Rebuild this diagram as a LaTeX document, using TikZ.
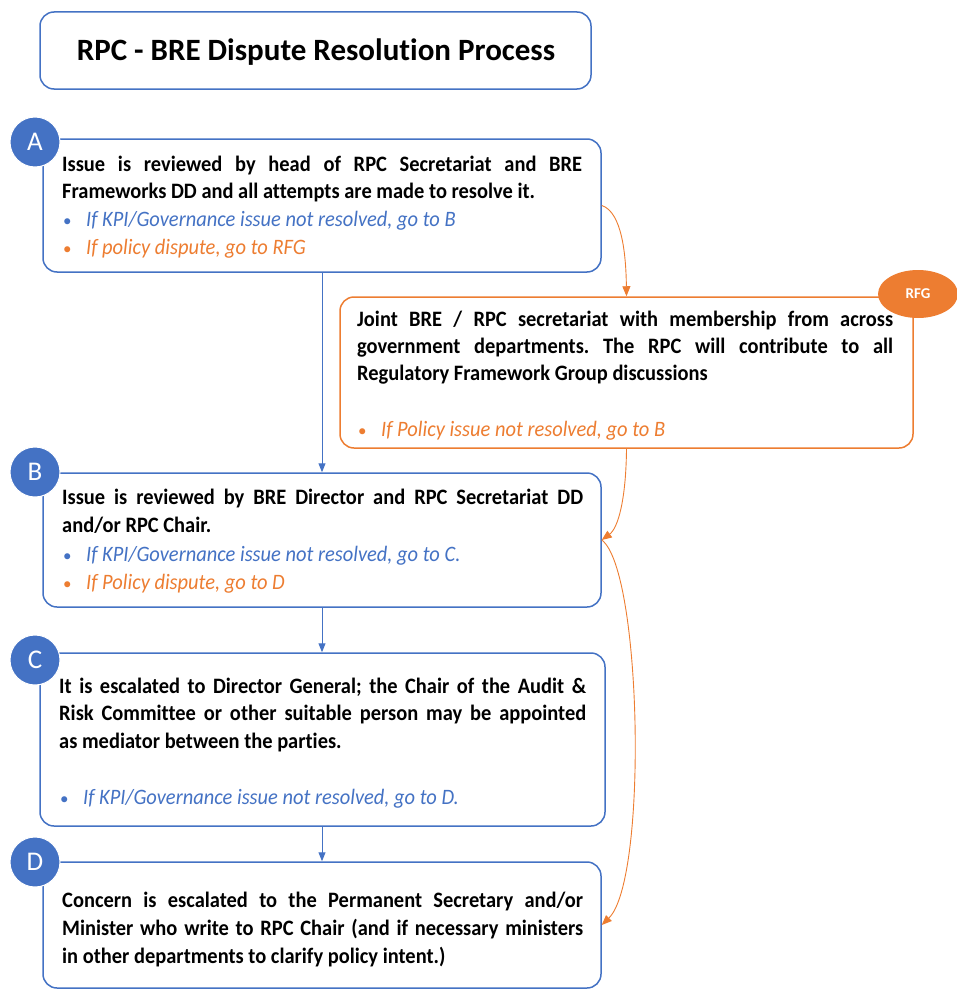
\documentclass[tikz,border=0pt]{standalone}
\usepackage{fontspec}
\setmainfont{Carlito}[Ligatures=NoCommon]
\newfontfamily\bodyfont{Carlito}[FakeStretch=0.93,Ligatures=NoCommon]
\usetikzlibrary{arrows.meta,shapes.geometric}
\definecolor{cblue}{HTML}{4472C4}
\definecolor{corange}{HTML}{ED7D31}
\newcommand{\jline}[2]{\makebox[#1pt][s]{#2}}
\frenchspacing
\begin{document}
\begin{tikzpicture}[x=1pt,y=-1pt,
  bbox/.style={draw=cblue,line width=1.5pt,rounded corners=14pt,inner sep=0pt,fill=white},
  obox/.style={draw=corange,line width=1.5pt,rounded corners=14pt,inner sep=0pt,fill=white},
  badge/.style={circle,fill=cblue,draw=white,line width=1pt,minimum size=50pt,inner sep=0pt,text=white,font=\fontsize{27}{27}\selectfont},
  rfgbadge/.style={ellipse,fill=corange,minimum width=80pt,minimum height=48pt,inner sep=0pt,text=white,font=\fontsize{15}{15}\selectfont\bfseries},
  ln/.style={anchor=base west,inner sep=0pt,font=\bodyfont\fontsize{22}{26}\selectfont\bfseries},
  bl/.style={anchor=base west,inner sep=0pt,font=\bodyfont\fontsize{22}{26}\selectfont\itshape,text=cblue},
  ol/.style={anchor=base west,inner sep=0pt,font=\bodyfont\fontsize{22}{26}\selectfont\itshape,text=corange},
  bul/.style={anchor=base west,inner sep=0pt,font=\fontsize{17}{20}\selectfont},
  barrow/.style={draw=cblue,line width=1pt,-{Triangle[length=9pt,width=7pt]}},
  oarrow/.style={draw=corange,line width=0.9pt,-{Triangle[length=10pt,width=8pt]}}]
\useasboundingbox (0,0) rectangle (957,990);

% title
\node[bbox,minimum width=551pt,minimum height=77pt] (title) at (315.5,50.5) {};
\node[anchor=base,inner sep=0pt,font=\fontsize{31}{33}\selectfont\bfseries] (titletext) at (316,61) {RPC - BRE Dispute Resolution Process};

% boxes
\node[bbox,minimum width=558pt,minimum height=133pt] (A) at (322,205.5) {};
\node[obox,minimum width=573pt,minimum height=151pt] (RFG) at (626.5,372.5) {};
\node[bbox,minimum width=558pt,minimum height=134pt] (B) at (322,540) {};
\node[bbox,minimum width=565pt,minimum height=173pt] (C) at (322.5,739.5) {};
\node[bbox,minimum width=558pt,minimum height=126pt] (D) at (322,925) {};

% badges
\node[badge] (bA) at (35,142) {A};
\node[badge] (bB) at (35,472) {B};
\node[badge] (bC) at (35,660) {C};
\node[badge] (bD) at (35,862) {D};
\node[rfgbadge] (bR) at (918,294) {RFG};

% A text
\node[ln] (a1) at (62,171) {\jline{520}{Issue is reviewed by head of RPC Secretariat and BRE}};
\node[ln] (a2) at (62,198) {Frameworks DD and all attempts are made to resolve it.};
\node[bul,text=cblue] (a3b) at (63,226) {•};
\node[bl] (a3) at (86,226) {If KPI/Governance issue not resolved, go to B};
\node[bul,text=corange] (a4b) at (63,254) {•};
\node[ol] (a4) at (86,254) {If policy dispute, go to RFG};

% RFG text
\node[ln] (r1) at (357,326) {\jline{536}{Joint BRE / RPC secretariat with membership from across}};
\node[ln] (r2) at (357,353) {\jline{536}{government departments. The RPC will contribute to all}};
\node[ln] (r3) at (357,380) {Regulatory Framework Group discussions};
\node[bul,text=corange] (r4b) at (358,436) {•};
\node[ol] (r4) at (381,436) {If Policy issue not resolved, go to B};

% B text
\node[ln] (b1) at (62,504) {\jline{521}{Issue is reviewed by BRE Director and RPC Secretariat DD}};
\node[ln] (b2) at (62,532) {and/or RPC Chair.};
\node[bul,text=cblue] (b3b) at (63,561) {•};
\node[bl] (b3) at (86,561) {If KPI/Governance issue not resolved, go to C.};
\node[bul,text=corange] (b4b) at (63,589) {•};
\node[ol] (b4) at (86,589) {If Policy dispute, go to D};

% C text
\node[ln] (c1) at (59,693) {\jline{527}{It is escalated to Director General; the Chair of the Audit \&}};
\node[ln] (c2) at (59,720) {\jline{527}{Risk Committee or other suitable person may be appointed}};
\node[ln] (c3) at (59,748) {as mediator between the parties.};
\node[bul,text=cblue] (c4b) at (60,804) {•};
\node[bl] (c4) at (83,804) {If KPI/Governance issue not resolved, go to D.};

% D text
\node[ln] (d1) at (62,907) {\jline{521}{Concern is escalated to the Permanent Secretary and/or}};
\node[ln] (d2) at (62,935) {\jline{521}{Minister who write to RPC Chair (and if necessary ministers}};
\node[ln] (d3) at (62,963) {in other departments to clarify policy intent.)};

% connectors
\draw[barrow] (A.south) -- (B.north);
\draw[barrow] (B.south) -- (C.north -| B.south);
\draw[barrow] (C.south -| B.south) -- (D.north);
\draw[oarrow] (A.east) .. controls (622,212) and (626,255) .. (RFG.north);
\draw[oarrow] (RFG.south) .. controls (626,500) and (618,528) .. (B.east);
\draw[oarrow] (B.east) .. controls (642,570) and (648,880) .. (D.east);
\end{tikzpicture}
\end{document}
